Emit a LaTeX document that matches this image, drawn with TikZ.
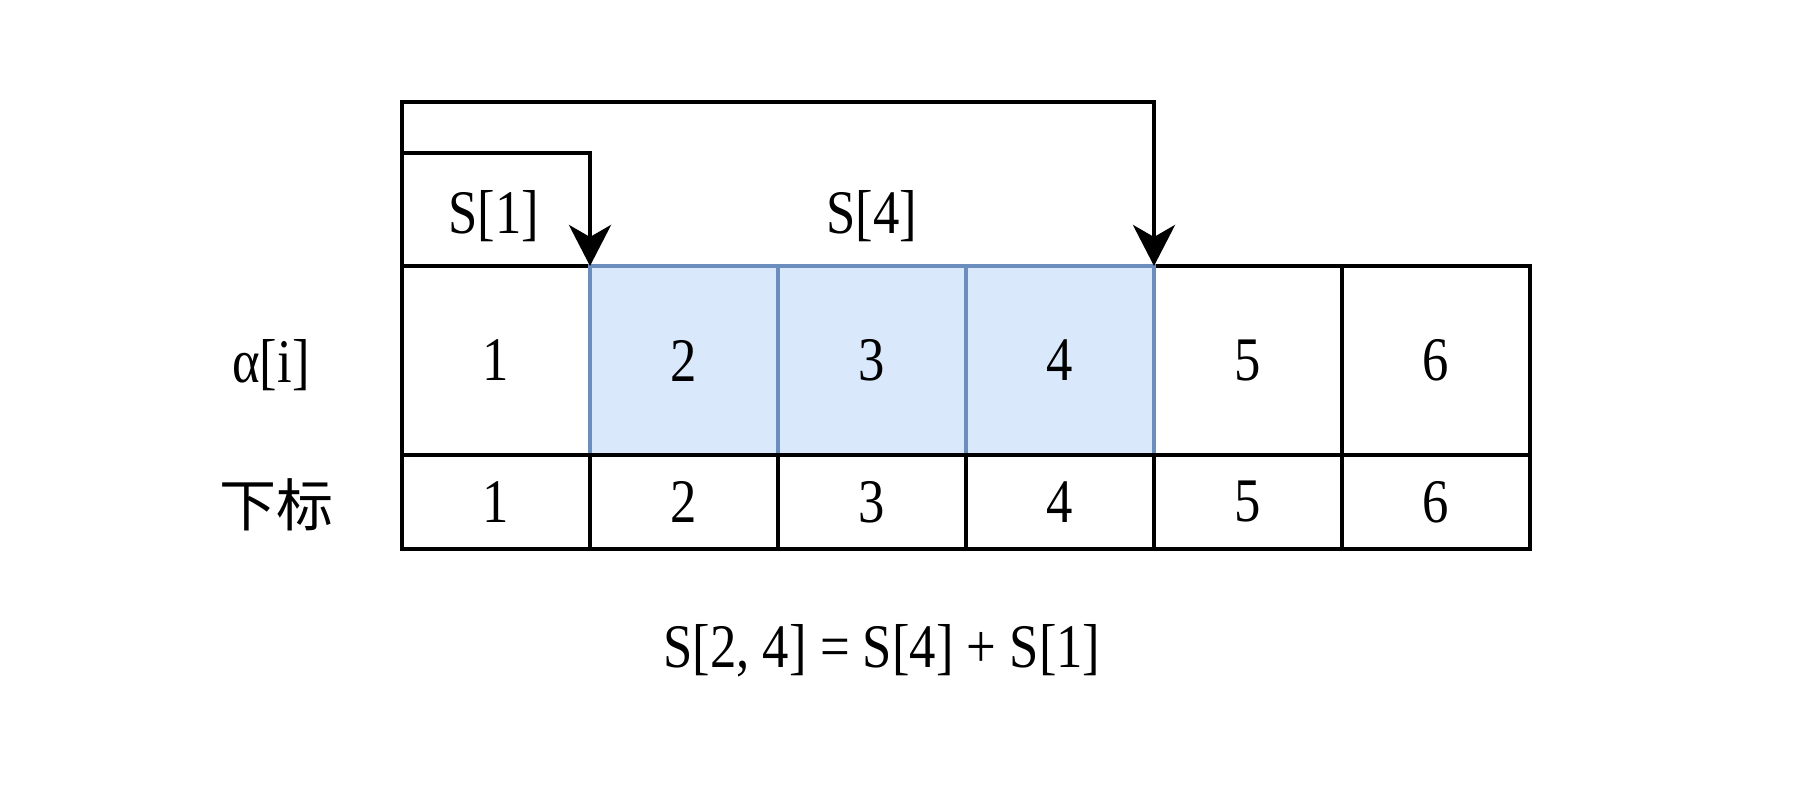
\documentclass[tikz,border=0pt]{standalone}
\usepackage{fontspec}
\setmainfont{Liberation Serif}[FakeStretch=0.85]
\newfontfamily\cjk{Noto Sans CJK SC}
\usetikzlibrary{arrows.meta}
\begin{document}
\begin{tikzpicture}[x=0.5pt,y=-0.5pt,
  every node/.style={font=\fontsize{31pt}{36pt}\selectfont},
  cellbase/.style={draw, line width=2.2pt, inner sep=0pt, outer sep=0pt, minimum width=94pt},
  topcell/.style={cellbase, minimum height=94.5pt},
  bluecell/.style={topcell, line width=1.7pt, draw={rgb,255:red,108;green,142;blue,191}, fill={rgb,255:red,218;green,232;blue,252}},
  botcell/.style={cellbase, minimum height=47pt},
  arr/.style={draw, line width=2.2pt, -{Stealth[length=20.5pt,width=21pt,inset=6pt]}},
  lbl/.style={inner sep=0pt}
]
\useasboundingbox (0,0) rectangle (1800,802);
% top row
\node[topcell]  (a1) at (496,360.5) {1};
\node[topcell]  (a5) at (1248,360.5) {5};
\node[topcell]  (a6) at (1436,360.5) {6};
\node[bluecell] (a2) at (684,360.5) {2};
\node[bluecell] (a3) at (872,360.5) {3};
\node[bluecell] (a4) at (1060,360.5) {4};
% bottom row
\node[botcell] (b1) at (496,502) {1};
\node[botcell] (b2) at (684,502) {2};
\node[botcell] (b3) at (872,502) {3};
\node[botcell] (b4) at (1060,502) {4};
\node[botcell] (b5) at (1248,502) {5};
\node[botcell] (b6) at (1436,502) {6};
% row labels
\node[lbl] (la) at (271,365) {α[i]};
\node[lbl] (lb) at (276,505) {\cjk\fontsize{28.5pt}{34pt}\selectfont 下标};
% arrows
\coordinate (y4) at (0,102);
\coordinate (y1) at (0,153);
\draw[arr] (a1.north west) -- (a1.north west |- y4) -- (a4.north east |- y4) -- (a4.north east);
\draw[arr] (a1.north west |- y1) -- (a2.north west |- y1) -- (a2.north west);
\node[lbl] (s1) at (494,216) {S[1]};
\node[lbl] (s4) at (872,216) {S[4]};
% formula
\node[lbl] (f) at (882,651) {S[2, 4] = S[4] + S[1]};
\end{tikzpicture}
\end{document}
